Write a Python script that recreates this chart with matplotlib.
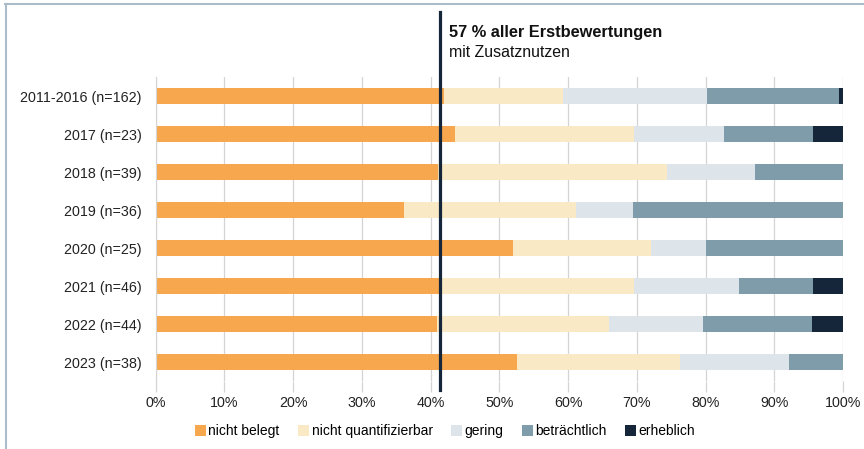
import matplotlib.pyplot as plt
from matplotlib.lines import Line2D
import numpy as np

plt.rcParams['font.family'] = ['Liberation Sans', 'DejaVu Sans']

# Kategorien (Jahre) und Anzahl Erstbewertungen
labels = ['2011-2016 (n=162)', '2017 (n=23)', '2018 (n=39)', '2019 (n=36)',
          '2020 (n=25)', '2021 (n=46)', '2022 (n=44)', '2023 (n=38)']
n_total = [162, 23, 39, 36, 25, 46, 44, 38]

# Anzahl je Ausmaß des Zusatznutzens
nicht_belegt = [68, 10, 16, 13, 13, 19, 18, 20]
nicht_quant = [28, 6, 13, 9, 5, 13, 11, 9]
gering = [34, 3, 5, 3, 2, 7, 6, 6]
betraechtlich = [31, 3, 5, 11, 5, 5, 7, 3]
erheblich = [1, 1, 0, 0, 0, 2, 2, 0]

series = ['nicht belegt', 'nicht quantifizierbar', 'gering', 'beträchtlich', 'erheblich']
colors = ['#F7A84E', '#F9E9C4', '#DDE4EA', '#7F9CAA', '#15253A']
line_pos = 41.4  # Markierung "57 % mit Zusatznutzen"

fig = plt.figure(figsize=(8.64, 4.49), dpi=100)
ax = fig.add_axes([0.180, 0.1514, 0.796, 0.677])

y = np.arange(len(labels))
left = np.zeros(len(labels))
for name, vals, col in zip(series, [nicht_belegt, nicht_quant, gering, betraechtlich, erheblich], colors):
    pct = np.array(vals) / np.array(n_total) * 100
    ax.barh(y, pct, left=left, height=0.42, color=col, label=name)
    left += pct

ax.set_xlim(0, 100)
ax.set_ylim(len(labels) - 0.5, -0.5)
ax.set_yticks(y)
ax.set_yticklabels(labels, fontsize=10.3, color='#222222')
ax.set_xticks(np.arange(0, 101, 10))
ax.set_xticklabels([f'{v}%' for v in range(0, 101, 10)], fontsize=10.3, color='#222222')
ax.xaxis.grid(True, color='#D4D4D4', linewidth=0.9)
ax.set_axisbelow(True)
ax.tick_params(axis='x', length=8, color='#D4D4D4', width=0.9, pad=3)
ax.tick_params(axis='y', length=0, pad=10)
for s in ax.spines.values():
    s.set_visible(False)
ax.spines['left'].set_visible(True)
ax.spines['left'].set_color('#D4D4D4')

# vertikale Linie
trans = ax.get_xaxis_transform()
ax.plot([line_pos, line_pos], [-0.03, 1.214], transform=trans, color='#15253A',
        linewidth=2.3, clip_on=False, zorder=5)
ax.text(line_pos + 1.3, 1.145, '57 % aller Erstbewertungen', transform=trans,
        fontsize=11.8, fontweight='bold', color='#111111', va='center')
ax.text(line_pos + 1.3, 1.08, 'mit Zusatznutzen', transform=trans,
        fontsize=11.4, color='#111111', va='center')

fig.legend(loc='center', bbox_to_anchor=(0.515, 0.04), ncol=5, frameon=False,
           fontsize=10, handlelength=0.8, handleheight=0.8, handletextpad=0.2,
           columnspacing=1.3)

# Rahmen oben und links
fig.add_artist(Line2D([0.006, 1.0], [0.991, 0.991], color='#A9BCC8', linewidth=1.5))
fig.add_artist(Line2D([0.0065, 0.0065], [0.0, 0.991], color='#A9BCC8', linewidth=1.5))

fig.savefig('out.png', dpi=100)
